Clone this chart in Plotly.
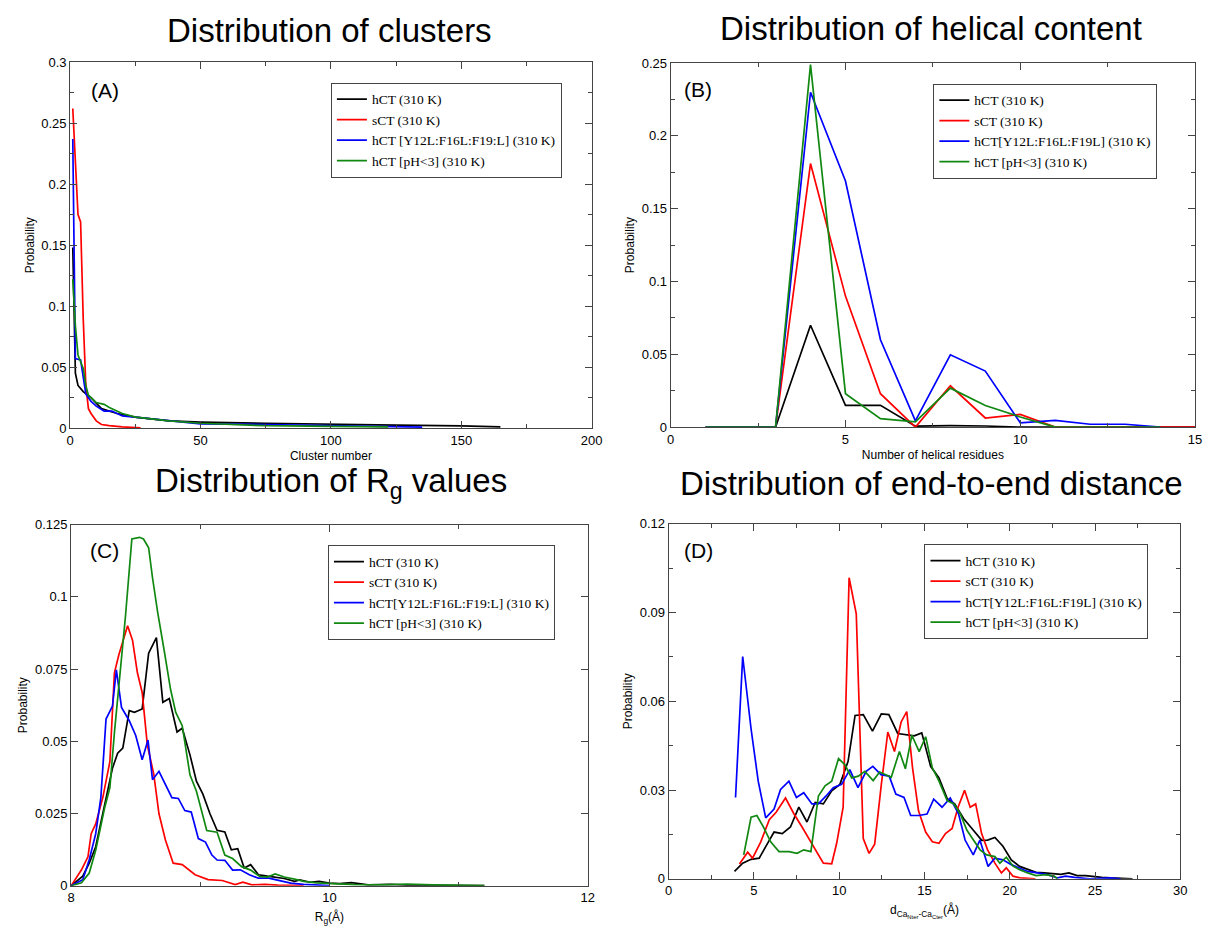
import plotly.graph_objects as go

# ---------------- data ----------------
names_A = ["hCT (310 K)", "sCT (310 K)", "hCT [Y12L:F16L:F19:L] (310 K)", "hCT [pH&lt;3] (310 K)"]
names_B = ["hCT (310 K)", "sCT (310 K)", "hCT[Y12L:F16L:F19L] (310 K)", "hCT [pH&lt;3] (310 K)"]
names_C = ["hCT (310 K)", "sCT (310 K)", "hCT[Y12L:F16L:F19:L] (310 K)", "hCT [pH&lt;3] (310 K)"]
names_D = ["hCT (310 K)", "sCT (310 K)", "hCT[Y12L:F16L:F19L] (310 K)", "hCT [pH&lt;3] (310 K)"]

# (A) cluster distribution
A_hct_x = [1, 2, 3, 5, 8, 12, 18, 25, 38, 50, 75, 100, 125, 150, 165]
A_hct_y = [0.148, 0.045, 0.035, 0.030, 0.025, 0.016, 0.012, 0.009, 0.006, 0.005, 0.004, 0.003, 0.0025, 0.0018, 0.001]
A_sct_x = [1, 2, 3, 4, 5, 6, 7, 8, 10, 12, 15, 20, 27]
A_sct_y = [0.262, 0.215, 0.175, 0.169, 0.090, 0.035, 0.016, 0.012, 0.006, 0.003, 0.002, 0.001, 0.0003]
A_mut_x = [1, 2, 4, 5, 6, 8, 10, 13, 16, 20, 30, 40, 50, 75, 100, 120, 135]
A_mut_y = [0.237, 0.057, 0.056, 0.040, 0.028, 0.022, 0.018, 0.014, 0.014, 0.010, 0.008, 0.006, 0.0035, 0.003, 0.002, 0.0015, 0.0008]
A_ph_x = [1, 2, 3, 4, 5, 6, 7, 10, 13, 15, 20, 25, 38, 50, 75, 100, 122]
A_ph_y = [0.122, 0.084, 0.060, 0.055, 0.049, 0.035, 0.027, 0.021, 0.0195, 0.017, 0.012, 0.009, 0.006, 0.004, 0.002, 0.0015, 0.001]

# (B) helical content
B_x = [1, 2, 3, 4, 5, 6, 7, 8, 9, 10, 11, 12, 13, 14, 15]
B_hct_y = [0, 0, 0, 0.070, 0.015, 0.015, 0.0007, 0.001, 0.0008, 0, 0, 0, 0, 0, 0]
B_sct_y = [0, 0, 0, 0.181, 0.090, 0.023, 0.0, 0.0284, 0.0063, 0.0088, 0, 0, 0, 0, 0]
B_mut_y = [0, 0, 0, 0.230, 0.169, 0.060, 0.0043, 0.0497, 0.0385, 0.003, 0.0047, 0.002, 0.002, 0]
B_ph_y = [0, 0, 0, 0.249, 0.023, 0.0059, 0.0036, 0.0268, 0.0149, 0.007, 0, 0, 0, 0]

# (C) radius of gyration
C_hct_x = [8.0, 8.09, 8.14, 8.19, 8.245, 8.28, 8.32, 8.36, 8.40, 8.45, 8.49, 8.55, 8.60, 8.66, 8.71, 8.76, 8.82, 8.86,
           8.92, 8.97, 9.02, 9.075, 9.13, 9.19, 9.24, 9.29, 9.34, 9.39, 9.45, 9.52, 9.58, 9.65, 9.73, 9.77, 9.85, 9.92,
           10.0, 10.08, 10.17, 10.3, 10.47, 10.6, 10.8, 11.0, 11.2]
C_hct_y = [0, 0.0033, 0.0078, 0.0135, 0.025, 0.0328, 0.0407, 0.0459, 0.0476, 0.0606, 0.060, 0.0612, 0.0805, 0.0859,
           0.0635, 0.0648, 0.0532, 0.0545, 0.0453, 0.0362, 0.0317, 0.0249, 0.0192, 0.0186, 0.0124, 0.0128, 0.0061,
           0.0073, 0.0038, 0.0033, 0.003, 0.0025, 0.0015, 0.002, 0.0012, 0.0015, 0.0009, 0.0007, 0.0011, 0.0003,
           0.0005, 0.0002, 0.0001, 0.0001, 0]
C_sct_x = [8.0, 8.08, 8.13, 8.155, 8.19, 8.245, 8.30, 8.335, 8.37, 8.437, 8.475, 8.513, 8.55, 8.59, 8.64, 8.68, 8.73,
           8.79, 8.86, 8.96, 9.06, 9.17, 9.27, 9.33, 9.4, 9.5, 9.6, 9.7, 9.8]
C_sct_y = [0, 0.0055, 0.010, 0.018, 0.0214, 0.0305, 0.043, 0.0737, 0.080, 0.090, 0.085, 0.0737, 0.0669, 0.0487,
           0.0385, 0.0249, 0.0158, 0.0078, 0.0073, 0.0038, 0.0021, 0.0018, 0.0004, 0.0012, 0.0003, 0.0005, 0.0002,
           0, 0]
C_mut_x = [8.0, 8.09, 8.14, 8.19, 8.23, 8.27, 8.32, 8.35, 8.39, 8.45, 8.50, 8.55, 8.595, 8.63, 8.68, 8.73, 8.78,
           8.83, 8.88, 8.93, 8.985, 9.04, 9.09, 9.13, 9.19, 9.25, 9.31, 9.38, 9.45, 9.53, 9.60, 9.70, 9.8, 9.9, 10.0]
C_mut_y = [0, 0.0021, 0.009, 0.018, 0.0305, 0.0577, 0.0622, 0.0747, 0.0617, 0.0571, 0.052, 0.0436, 0.0504, 0.0367,
           0.0396, 0.035, 0.0305, 0.0302, 0.026, 0.0255, 0.0163, 0.0151, 0.0106, 0.0089, 0.0088, 0.0054, 0.0055,
           0.0038, 0.0026, 0.0026, 0.002, 0.0009, 0.0005, 0.0003, 0]
C_ph_x = [8.0, 8.08, 8.14, 8.19, 8.26, 8.30, 8.335, 8.385, 8.42, 8.47, 8.53, 8.56, 8.60, 8.63, 8.67, 8.72, 8.77, 8.81,
          8.86, 8.92, 8.97, 9.05, 9.13, 9.19, 9.25, 9.32, 9.39, 9.46, 9.52, 9.58, 9.65, 9.73, 9.8, 9.9, 10.0, 10.2,
          10.4, 10.6, 10.8, 11.0, 11.2]
C_ph_y = [0, 0.001, 0.0044, 0.0123, 0.0271, 0.034, 0.053, 0.076, 0.093, 0.120, 0.1206, 0.120, 0.117, 0.1066, 0.0946,
          0.0815, 0.0679, 0.060, 0.0554, 0.0384, 0.0327, 0.0191, 0.0185, 0.0106, 0.0094, 0.0066, 0.0054, 0.0032,
          0.003, 0.0041, 0.003, 0.0023, 0.0015, 0.001, 0.0008, 0.0004, 0.0003, 0.0006, 0.0003, 0.0002, 0]

# (D) end-to-end distance
D_hct_x = [3.86, 4.34, 4.83, 5.31, 5.69, 6.18, 6.66, 7.14, 7.63, 8.11, 8.59, 9.07, 9.56, 10.04, 10.52, 10.93, 11.41,
           11.95, 12.47, 12.91, 13.43, 13.92, 14.4, 14.84, 15.36, 15.85, 16.33, 16.77, 17.3, 17.78, 18.36, 18.7,
           19.13, 19.6, 20.09, 20.58, 21.06, 21.54, 22.02, 22.5, 23.0, 23.47, 23.95, 24.44, 24.92, 25.4, 25.9,
           26.5, 27.2]
D_hct_y = [0.0025, 0.0053, 0.0066, 0.007, 0.0109, 0.0158, 0.0153, 0.0175, 0.0242, 0.0192, 0.0258, 0.0253, 0.0297,
           0.0319, 0.0397, 0.0552, 0.0555, 0.0499, 0.0557, 0.0555, 0.0491, 0.0488, 0.0483, 0.0493, 0.038, 0.0341,
           0.0271, 0.0253, 0.0203, 0.017, 0.013, 0.0131, 0.014, 0.011, 0.0064, 0.0042, 0.0031, 0.0022, 0.002,
           0.0017, 0.0015, 0.002, 0.0011, 0.0011, 0.0007, 0.0005, 0.0003, 0.0002, 0]
D_sct_x = [4.15, 4.63, 4.92, 5.4, 5.9, 6.3, 6.85, 7.34, 7.82, 8.3, 8.69, 9.07, 9.56, 9.85, 10.23, 10.58, 11.0, 11.41,
           11.75, 12.08, 12.47, 12.85, 13.24, 13.63, 13.96, 14.3, 14.65, 15.07, 15.46, 15.85, 16.23, 16.62, 16.97,
           17.35, 17.68, 18.0, 18.35, 18.7, 19.13, 19.51, 19.8, 20.19, 20.6, 21.0, 21.5]
D_sct_y = [0.005, 0.009, 0.007, 0.0125, 0.020, 0.0225, 0.0273, 0.022, 0.0175, 0.013, 0.0092, 0.0053, 0.0051, 0.012,
           0.0242, 0.1017, 0.0895, 0.0136, 0.0086, 0.0117, 0.0319, 0.0496, 0.043, 0.053, 0.0565, 0.0375, 0.023,
           0.0158, 0.0125, 0.012, 0.0153, 0.017, 0.0242, 0.0299, 0.0242, 0.0253, 0.0153, 0.0098, 0.0053, 0.002,
           0.0037, 0.0009, 0.0003, 0.0001, 0]
D_mut_x = [3.92, 4.34, 4.83, 5.25, 5.69, 6.18, 6.56, 7.05, 7.49, 7.92, 8.4, 8.78, 9.23, 9.65, 10.14, 10.62, 11.1,
           11.58, 11.97, 12.45, 12.93, 13.32, 13.8, 14.19, 14.67, 15.15, 15.54, 16.03, 16.51, 17.0, 17.38, 17.86,
           18.25, 18.73, 19.12, 19.6, 20.09, 20.57, 21.05, 21.63, 22.2, 22.8, 23.28, 23.8, 24.7, 25.3, 25.9, 26.5]
D_mut_y = [0.0275, 0.0751, 0.0507, 0.033, 0.0206, 0.0236, 0.0302, 0.033, 0.0275, 0.0291, 0.0253, 0.0253, 0.028,
           0.0308, 0.0319, 0.0369, 0.0308, 0.0363, 0.038, 0.0352, 0.0347, 0.0286, 0.0275, 0.0214, 0.0214, 0.0219,
           0.0269, 0.0242, 0.0273, 0.0219, 0.0131, 0.0081, 0.0131, 0.0042, 0.007, 0.0064, 0.0048, 0.0037, 0.0025,
           0.002, 0.0014, 0.0003, 0.0009, 0.0005, 0, 0.0002, 0.0003, 0]
D_ph_x = [4.4, 4.83, 5.17, 5.56, 5.98, 6.47, 7.05, 7.53, 7.92, 8.34, 8.78, 9.17, 9.56, 9.96, 10.33, 10.73, 11.12,
          11.5, 11.99, 12.37, 13.05, 13.53, 13.88, 14.26, 14.69, 15.07, 15.46, 15.85, 16.33, 16.72, 17.1, 17.49,
          17.87, 18.26, 18.65, 19.13, 19.42, 19.8, 20.19, 20.58, 21.05, 21.54, 22.1, 22.6, 22.8]
D_ph_y = [0.0081, 0.0208, 0.0214, 0.0175, 0.0125, 0.0092, 0.0092, 0.0086, 0.0098, 0.0092, 0.028, 0.0314, 0.033,
          0.0406, 0.0386, 0.0341, 0.0347, 0.0363, 0.0332, 0.0361, 0.0343, 0.043, 0.0372, 0.0485, 0.043, 0.048,
          0.0375, 0.033, 0.0264, 0.0253, 0.0219, 0.0164, 0.0131, 0.0098, 0.0081, 0.0075, 0.0053, 0.0073, 0.0043,
          0.0031, 0.002, 0.0011, 0.0014, 0.0009, 0]

COLORS = ["#000000", "#ff0000", "#0000ff", "#118811"]

W, H = 1214, 938
fig = go.Figure()

panels = [
    ("x", "y", "legend", names_A, [(A_hct_x, A_hct_y), (A_sct_x, A_sct_y), (A_mut_x, A_mut_y), (A_ph_x, A_ph_y)]),
    ("x2", "y2", "legend2", names_B, [(B_x[:len(B_hct_y)], B_hct_y), (B_x[:len(B_sct_y)], B_sct_y),
                                      (B_x[:len(B_mut_y)], B_mut_y), (B_x[:len(B_ph_y)], B_ph_y)]),
    ("x3", "y3", "legend3", names_C, [(C_hct_x, C_hct_y), (C_sct_x, C_sct_y), (C_mut_x, C_mut_y), (C_ph_x, C_ph_y)]),
    ("x4", "y4", "legend4", names_D, [(D_hct_x, D_hct_y), (D_sct_x, D_sct_y), (D_mut_x, D_mut_y), (D_ph_x, D_ph_y)]),
]
for xa, ya, lg, names, series in panels:
    for (sx, sy), nm, col in zip(series, names, COLORS):
        fig.add_trace(go.Scatter(x=sx, y=sy, name=nm, mode="lines", xaxis=xa, yaxis=ya, legend=lg,
                                 line=dict(color=col, width=1.7)))

FRAME = "#444444"
TICKFONT = dict(family="Liberation Sans, Arial, sans-serif", size=13, color="black")
TITLEFONT = dict(family="Liberation Sans, Arial, sans-serif", size=12, color="black")


def px_x(a, b):
    return [a / W, b / W]


def px_y(top, bottom):
    return [1 - bottom / H, 1 - top / H]


def axis(domain, rng, dtick, minor, title, anchor, tick0=0, standoff=4):
    d = dict(domain=domain, range=rng, dtick=dtick, tick0=tick0, ticks="inside", ticklen=7, tickwidth=1,
             tickcolor=FRAME, showline=True, linecolor=FRAME, linewidth=1, mirror="allticks", showgrid=False,
             zeroline=False, tickfont=TICKFONT, anchor=anchor,
             title=dict(text=title, font=TITLEFONT, standoff=standoff))
    if minor:
        d["minor"] = dict(ticks="inside", ticklen=4, dtick=minor, tick0=tick0, tickcolor=FRAME, tickwidth=1,
                          showgrid=False)
    return d


layout = dict(
    width=W, height=H, margin=dict(l=0, r=0, t=0, b=0), plot_bgcolor="white", paper_bgcolor="white",
    showlegend=True,
    xaxis=axis(px_x(67, 595), [0, 200], 50, 25, "Cluster number", "y"),
    yaxis=axis(px_y(56, 428), [0, 0.3], 0.05, 0.025, "Probability", "x"),
    xaxis2=axis(px_x(675, 1206), [0, 15], 5, 2.5, "Number of helical residues", "y2"),
    yaxis2=axis(px_y(57, 427), [0, 0.25], 0.05, 0.025, "Probability", "x2"),
    xaxis3=axis(px_x(68, 591), [8, 12], 2, 1, "R<sub>g</sub>(Å)", "y3", tick0=8, standoff=8),
    yaxis3=axis(px_y(526, 893), [0, 0.125], 0.025, None, "Probability", "x3"),
    xaxis4=axis(px_x(673, 1191), [0, 30], 5, 2.5, "d<sub>Ca<sub>Nter</sub>-Ca<sub>Cter</sub></sub>(Å)", "y4", standoff=8),
    yaxis4=axis(px_y(525, 886), [0, 0.12], 0.03, 0.015, "Probability", "x4"),
)

LEGFONT = dict(family="Liberation Serif, Times New Roman, serif", size=13.5, color="black")
for key, (lx, ly) in zip(["legend", "legend2", "legend3", "legend4"],
                          [(331, 77), (941, 78), (328, 547), (932, 546)]):
    layout[key] = dict(x=lx / W, y=1 - ly / H, xanchor="left", yanchor="top", xref="paper", yref="paper",
                       bgcolor="white", bordercolor=FRAME, borderwidth=1, font=LEGFONT,
                       tracegroupgap=0, itemwidth=30)

fig.update_layout(**layout)

TFONT = dict(family="Liberation Sans, Arial, sans-serif", size=33, color="black")
titles = [("Distribution of clusters", 330, 24), ("Distribution of helical content", 939, 22),
          ("Distribution of R<sub>g</sub> values", 331, 484), ("Distribution of end-to-end distance", 939, 484)]
for t, cx, cy in titles:
    fig.add_annotation(text=t, x=cx / W, y=1 - cy / H, xref="paper", yref="paper", showarrow=False,
                       xanchor="center", yanchor="middle", font=TFONT)

LFONT = dict(family="Liberation Sans, Arial, sans-serif", size=21, color="black")
for t, cx, cy in [("(A)", 102, 85), ("(B)", 703, 84), ("(C)", 102, 552), ("(D)", 703, 552)]:
    fig.add_annotation(text=t, x=cx / W, y=1 - cy / H, xref="paper", yref="paper", showarrow=False,
                       xanchor="center", yanchor="middle", font=LFONT)

fig.write_html("out.html")
